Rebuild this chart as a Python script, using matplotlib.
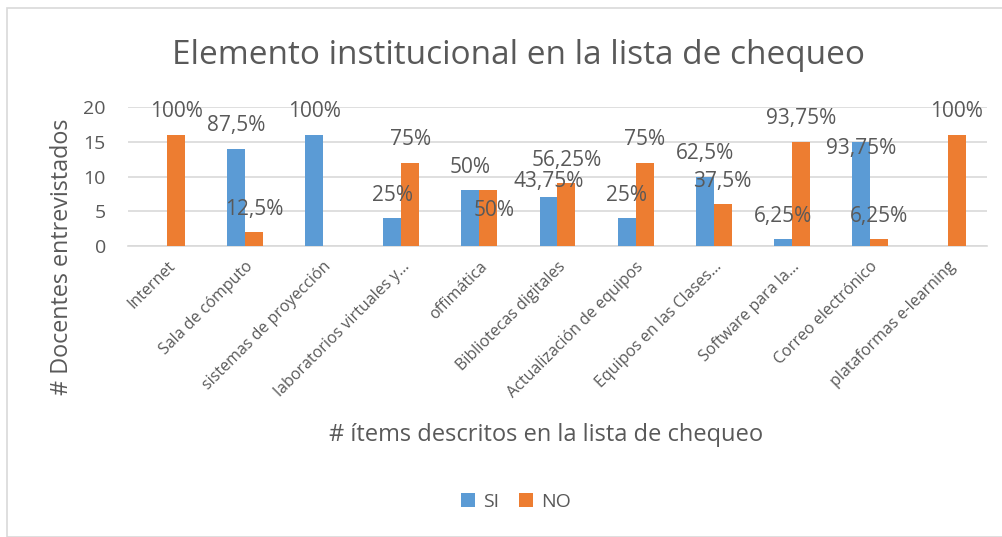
import numpy as np
import matplotlib
matplotlib.use("Agg")
import matplotlib.pyplot as plt
from matplotlib.patches import Rectangle

plt.rcParams['font.family'] = ['Open Sans', 'DejaVu Sans']

categorias = ["Internet", "Sala de cómputo", "sistemas de proyección",
              "laboratorios virtuales y...", "offimática", "Bibliotecas digitales",
              "Actualización de equipos", "Equipos en las Clases...",
              "Software para la...", "Correo electrónico", "plataformas e-learning"]
si_vals = [0, 14, 16, 4, 8, 7, 4, 10, 1, 15, 0]
no_vals = [16, 2, 0, 12, 8, 9, 12, 6, 15, 1, 16]
si_labels = ["", "87,5%", "100%", "25%", "50%", "43,75%", "25%", "62,5%", "6,25%", "93,75%", ""]
no_labels = ["100%", "12,5%", "", "75%", "50%", "56,25%", "75%", "37,5%", "93,75%", "6,25%", "100%"]

AZUL = "#5B9BD5"
NARANJA = "#ED7D31"
GRIS_TXT = "#595959"
GRIS_LIN = "#D9D9D9"

fig = plt.figure(figsize=(10.03, 5.37), dpi=100)
# marco del grafico
fig.patches.append(Rectangle((7 / 1003, 0), 1.0, 1 - 8 / 537, transform=fig.transFigure,
                             fill=False, edgecolor=GRIS_LIN, linewidth=1.2))

ax = fig.add_axes([128 / 1003, 1 - 246 / 537, 859 / 1003, 139 / 537])
x = np.arange(len(categorias))
w = 0.23
b_si = ax.bar(x - w / 2, si_vals, w, color=AZUL, label="SI", zorder=3)
b_no = ax.bar(x + w / 2, no_vals, w, color=NARANJA, label="NO", zorder=3)

ax.set_xlim(-0.5, len(categorias) - 0.5)
ax.set_ylim(0, 20)
ax.set_yticks([0, 5, 10, 15, 20])
ax.yaxis.grid(True, color=GRIS_LIN, linewidth=1.2, zorder=0)
ax.set_axisbelow(True)
for s in ["top", "right", "left"]:
    ax.spines[s].set_visible(False)
ax.spines["bottom"].set_color(GRIS_LIN)
ax.spines["bottom"].set_linewidth(1.2)
ax.tick_params(axis="y", length=0, pad=16, labelsize=14, labelcolor=GRIS_TXT)
ax.tick_params(axis="x", length=0, pad=9, labelsize=11.5, labelcolor=GRIS_TXT)
ax.set_xticks(x)
ax.set_xticklabels(categorias, rotation=45, ha="right", rotation_mode="anchor")

# etiquetas de datos (desplazamiento vertical en puntos sobre la barra)
base_off = 12.6
ajustes_si = {5: (0, 7.7), 9: (0, -8.6)}
ajustes_no = {4: (4, -18.7)}
for bars, labs, adj in [(b_si, si_labels, ajustes_si), (b_no, no_labels, ajustes_no)]:
    for i, (r, t) in enumerate(zip(bars, labs)):
        if not t:
            continue
        dx, dy = adj.get(i, (0, base_off))
        ax.annotate(t, (r.get_x() + r.get_width() / 2, r.get_height()),
                    xytext=(dx, dy), textcoords="offset points",
                    ha="center", va="baseline", fontsize=15, color=GRIS_TXT, zorder=5)

fig.text(518 / 1003, 1 - 55 / 537, "Elemento institucional en la lista de chequeo",
         ha="center", va="center", fontsize=24, color=GRIS_TXT)
fig.text(62 / 1003, 1 - 257 / 537, "# Docentes entrevistados", rotation=90,
         ha="center", va="center", fontsize=16.8, color=GRIS_TXT)
fig.text(546 / 1003, 1 - 435 / 537, "# ítems descritos en la lista de chequeo",
         ha="center", va="center", fontsize=17, color=GRIS_TXT)

fig.legend(handles=[b_si, b_no], labels=["SI", "NO"], loc="center",
           bbox_to_anchor=(516 / 1003, 1 - 502 / 537), ncol=2, frameon=False,
           fontsize=14, labelcolor=GRIS_TXT, handlelength=0.75, handleheight=0.75,
           handletextpad=0.4, columnspacing=1.0)

fig.savefig("out.png", dpi=100)
